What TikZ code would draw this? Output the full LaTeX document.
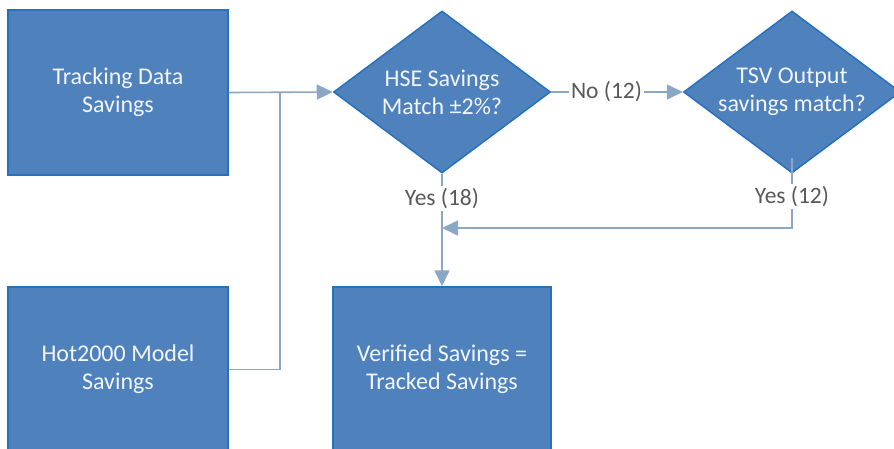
\documentclass[tikz,border=0pt]{standalone}
\usepackage{fontspec}
\setmainfont{Carlito}
\usetikzlibrary{shapes.geometric,arrows.meta}
\definecolor{boxfill}{RGB}{79,129,189}
\definecolor{boxline}{RGB}{38,112,192}
\definecolor{connc}{RGB}{138,167,197}
\definecolor{lblc}{RGB}{89,89,89}
\definecolor{boxtext}{RGB}{242,245,250}
\tikzset{
  blockbox/.style={draw=boxline, fill=boxfill, line width=1.5pt, minimum width=220pt, minimum height=165pt, inner sep=0pt, align=center, text=boxtext, font=\fontsize{24}{28}\selectfont},
  decbox/.style={diamond, draw=boxline, fill=boxfill, line width=1.5pt, minimum width=217pt, minimum height=162pt, inner sep=0pt},
  dectext/.style={align=center, text=boxtext, inner sep=0pt, font=\fontsize{24}{28}\selectfont},
  conn/.style={draw=connc, line width=1.6pt},
  tip/.style={-{Triangle[length=16pt,width=15pt]}},
  lbl/.style={fill=white, inner sep=2pt, text=lblc, font=\fontsize{23.5}{27}\selectfont}
}
\begin{document}
\begin{tikzpicture}[x=1pt,y=-1pt]
\path[use as bounding box] (0,0) rectangle (894,448);
\clip (0,0) rectangle (894,448);
\node[blockbox] (b1) at (118,92.5) {Tracking Data\\Savings};
\node[blockbox] (b2) at (118,369.5) {Hot2000 Model\\Savings};
\node[blockbox, minimum width=218pt] (b3) at (442,369.5) {Verified Savings =\\Tracked Savings};
\node[decbox, label={[dectext]center:HSE Savings\\Match ±2\%?}] (d1) at (442,92) {};
\node[decbox, label={[dectext]center:TSV Output\\savings match?}] (d2) at (792,92) {};
\coordinate (j) at (280,92);
\coordinate (c2) at (792,158);
\coordinate (m) at (442,228);
\draw[conn,tip] (b1.east) -- (d1.west);
\draw[conn] (b2.east) -| (j);
\draw[conn,tip] (d1.east) -- node[lbl,pos=0.42]{No (12)} (d2.west);
\draw[conn,tip] (d1.south) -- node[lbl,pos=0.22]{Yes (18)} (b3.north);
\draw[conn,tip] (c2) -- node[lbl,pos=0.55]{Yes (12)} (c2 |- m) -- (m);
\end{tikzpicture}
\end{document}
